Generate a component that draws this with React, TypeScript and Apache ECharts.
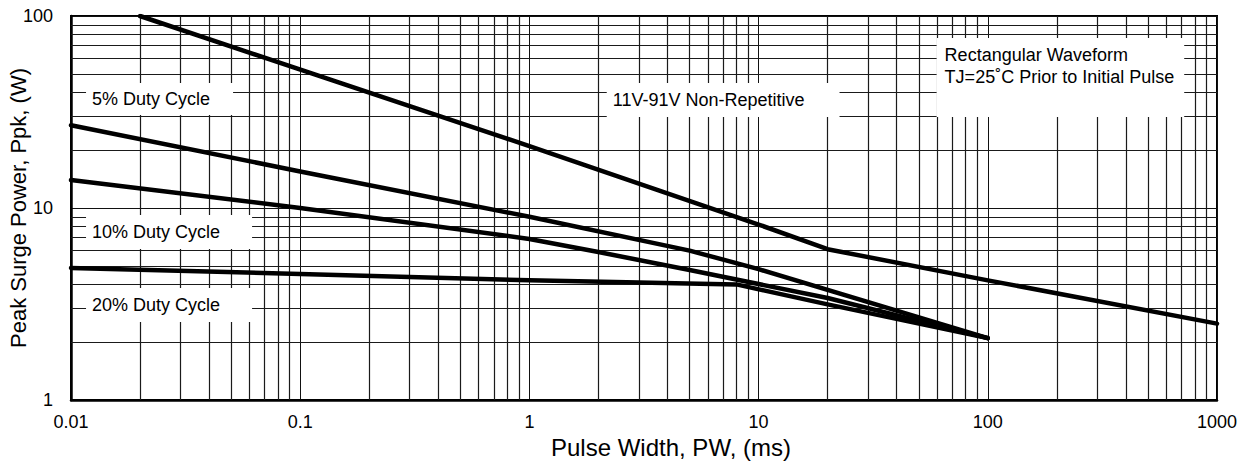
import React, { useEffect, useRef } from "react";
import * as echarts from "echarts";

const FONT = "'Liberation Sans', Arial, Helvetica, sans-serif";

// Axis tick labels
const xTickLabels = ["0.01", "0.1", "1", "10", "100", "1000"];
const yTickLabels = ["1", "10", "100"];
const xDecades = [0.01, 0.1, 1, 10, 100];
const yDecades = [1, 10];
const minorMultipliers = [2, 3, 4, 5, 6, 7, 8, 9];

// Curves (pulse width ms, peak power W)
const nonRepX = [0.02, 1, 10, 20, 100, 1000];
const nonRepY = [100, 21, 8.2, 6.1, 4.2, 2.5];
const duty5X = [0.01, 0.1, 1, 5, 10, 100];
const duty5Y = [27, 15.5, 9.0, 6.0, 4.8, 2.1];
const duty10X = [0.01, 0.1, 1, 2, 5, 20, 100];
const duty10Y = [14, 10, 6.9, 5.9, 4.75, 3.4, 2.1];
const duty20X = [0.01, 0.1, 1, 8, 20, 100];
const duty20Y = [4.87, 4.53, 4.2, 4.0, 3.15, 2.1];

// Annotation boxes: text, anchor (top-left in data coords), padding
const noteTexts = [
  "5% Duty Cycle",
  "10% Duty Cycle",
  "20% Duty Cycle",
  "11V-91V Non-Repetitive",
  "Rectangular Waveform\nTJ=25\u02DAC Prior to Initial Pulse",
];
const noteX = [0.01163, 0.01163, 0.01163, 2.175, 59.8];
const noteY = [44.8, 9.19, 3.83, 44.8, 76.8];
const notePad = [
  [7, 23, 7, 6],
  [8, 32, 8, 6],
  [8, 32, 8, 6],
  [8, 35, 8, 6],
  [6, 10, 29, 8],
];

const zip = (xs: number[], ys: number[]) => xs.map((x, i) => [x, ys[i]]);

export default function App() {
  const ref = useRef<HTMLDivElement>(null);
  useEffect(() => {
    document.body.style.margin = "0";
    const chart = echarts.init(ref.current!, null, { renderer: "svg" });
    const minorX: number[] = [];
    xDecades.forEach((d) => minorMultipliers.forEach((m) => minorX.push(m * d)));
    const minorY: number[] = [];
    yDecades.forEach((d) => minorMultipliers.forEach((m) => minorY.push(m * d)));

    const curveStyle = (w: number) => ({
      type: "line" as const,
      showSymbol: false,
      symbol: "none",
      z: 5,
      silent: true,
      lineStyle: { color: "#000", width: w, cap: "round" as const, join: "round" as const },
      emphasis: { disabled: true },
    });

    chart.setOption({
      animation: false,
      grid: {
        left: 71,
        right: 36,
        top: 16,
        bottom: 69,
        outerBoundsMode: "none",
        containLabel: false,
        show: true,
        borderColor: "#000",
        borderWidth: 2,
        backgroundColor: "#fff",
      },
      xAxis: {
        type: "log",
        logBase: 10,
        min: 0.01,
        max: 1000,
        name: "Pulse Width, PW, (ms)",
        nameLocation: "middle",
        nameGap: 35,
        nameMoveOverlap: false,
        nameTextStyle: { fontSize: 24, fontFamily: FONT, color: "#000", padding: [0, 0, 0, 54] },
        axisLine: { show: true, lineStyle: { color: "#000", width: 2.5 } },
        axisTick: { show: false },
        axisLabel: {
          margin: 13,
          fontSize: 18,
          fontFamily: FONT,
          color: "#000",
          formatter: (_v: number, i: number) => xTickLabels[i] ?? "",
        },
        splitLine: { show: true, lineStyle: { color: "#111", width: 1 } },
      },
      yAxis: {
        type: "log",
        logBase: 10,
        min: 1,
        max: 100,
        name: "Peak Surge Power, Ppk, (W)",
        nameLocation: "middle",
        nameGap: 42,
        nameMoveOverlap: false,
        nameTextStyle: { fontSize: 22, fontFamily: FONT, color: "#000" },
        axisLine: { show: true, lineStyle: { color: "#000", width: 2.5 } },
        axisTick: { show: false },
        axisLabel: {
          margin: 18,
          fontSize: 18,
          fontFamily: FONT,
          color: "#000",
          formatter: (_v: number, i: number) => yTickLabels[i] ?? "",
        },
        splitLine: { show: true, lineStyle: { color: "#111", width: 1 } },
      },
      series: [
        {
          type: "line",
          data: [],
          z: 1,
          silent: true,
          markLine: {
            silent: true,
            animation: false,
            symbol: ["none", "none"],
            label: { show: false },
            emphasis: { disabled: true },
            lineStyle: { color: "#1a1a1a", width: 1.2, type: "solid" },
            data: [
              ...minorX.map((v) => ({ xAxis: v })),
              ...minorY.map((v) => ({ yAxis: v })),
            ],
          },
        },
        {
          type: "scatter",
          data: [],
          z: 3,
          silent: true,
          markPoint: {
            silent: true,
            animation: false,
            symbol: "rect",
            symbolSize: 0,
            itemStyle: { color: "transparent" },
            data: noteTexts.map((t, i) => ({
              coord: [noteX[i], noteY[i]],
              value: 0,
              label: {
                show: true,
                position: [0, 0],
                align: "left",
                verticalAlign: "top",
                formatter: t,
                fontSize: 18,
                lineHeight: i === 4 ? 22 : 18,
                fontFamily: FONT,
                color: "#000",
                backgroundColor: "#fff",
                padding: notePad[i],
              },
            })),
          },
        },
        { ...curveStyle(4.5), name: "Non-Repetitive", data: zip(nonRepX, nonRepY) },
        { ...curveStyle(4.5), name: "5% Duty Cycle", data: zip(duty5X, duty5Y) },
        { ...curveStyle(4.5), name: "10% Duty Cycle", data: zip(duty10X, duty10Y) },
        { ...curveStyle(4.5), name: "20% Duty Cycle", data: zip(duty20X, duty20Y) },
      ],
    });
    return () => chart.dispose();
  }, []);
  return <div ref={ref} style={{ width: 1253, height: 469 }} />;
}
